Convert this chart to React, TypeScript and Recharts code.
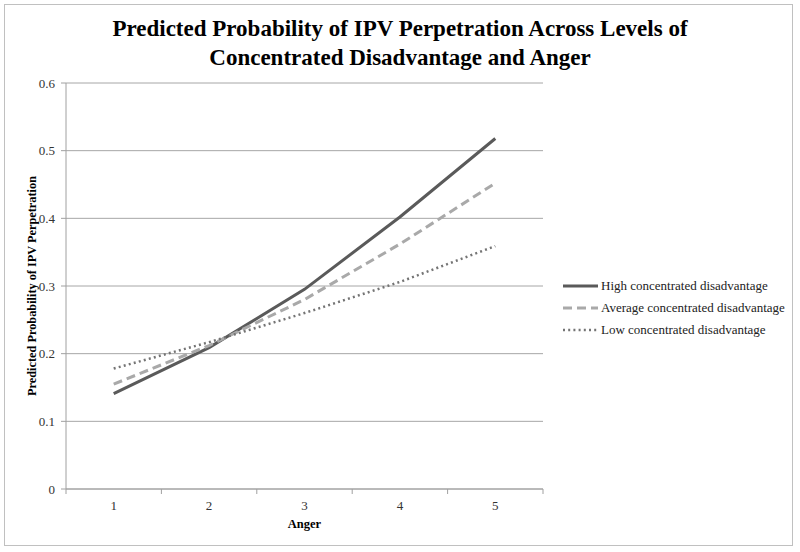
import React from "react";
import { LineChart, Line, XAxis, YAxis, CartesianGrid, Label } from "recharts";

const angerLevels = [1, 2, 3, 4, 5];
const highDisadvantage = [0.141, 0.209, 0.295, 0.402, 0.518];
const averageDisadvantage = [0.155, 0.212, 0.28, 0.362, 0.452];
const lowDisadvantage = [0.178, 0.217, 0.26, 0.306, 0.359];
const yTicks = [0, 0.1, 0.2, 0.3, 0.4, 0.5, 0.6];
const xTicks = [0.5, 1, 1.5, 2, 2.5, 3, 3.5, 4, 4.5, 5, 5.5];

const titleLines = [
  "Predicted Probability of IPV Perpetration Across Levels of",
  "Concentrated Disadvantage and Anger",
];

const series = [
  { key: "high", name: "High concentrated disadvantage", color: "#5a5a5a", dash: undefined as string | undefined, width: 3 },
  { key: "average", name: "Average concentrated disadvantage", color: "#a9a9a9", dash: "9 5", width: 3 },
  { key: "low", name: "Low concentrated disadvantage", color: "#747474", dash: "2 3.2", width: 2.5 },
];

const data = angerLevels.map((a, i) => ({
  anger: a,
  high: highDisadvantage[i],
  average: averageDisadvantage[i],
  low: lowDisadvantage[i],
}));

const FONT = '"Liberation Serif", "Times New Roman", serif';

const XTick = (props: any) => {
  const { x, y, payload } = props;
  const v = payload.value as number;
  if (!Number.isInteger(v)) {
    return <line x1={x} y1={y} x2={x} y2={y + 5} stroke="#a0a0a0" strokeWidth={1} />;
  }
  return (
    <text x={x} y={y + 21} textAnchor="middle" fontFamily={FONT} fontSize={13} fill="#333">
      {v}
    </text>
  );
};

export default function App() {
  return (
    <div style={{ position: "absolute", left: 0, top: 0, width: 800, height: 552, background: "#fff" }}>
      <div
        style={{
          position: "absolute",
          left: 4,
          top: 4,
          width: 787,
          height: 540,
          border: "1.5px solid #c0c0c0",
        }}
      />
      <div
        style={{
          position: "absolute",
          left: 0,
          top: 14,
          width: 800,
          textAlign: "center",
          fontFamily: FONT,
          fontWeight: "bold",
          fontSize: 23,
          lineHeight: "29px",
          color: "#000",
        }}
      >
        {titleLines.map((t) => (
          <div key={t}>{t}</div>
        ))}
      </div>
      <div style={{ position: "absolute", left: 0, top: 0 }}>
        <LineChart width={800} height={552} data={data} margin={{ top: 83, right: 257, bottom: 33, left: 16 }}>
          <CartesianGrid vertical={false} stroke="#a6a6a6" strokeWidth={1} />
          <XAxis
            dataKey="anger"
            type="number"
            domain={[0.5, 5.5]}
            ticks={xTicks}
            interval={0}
            height={30}
            tickLine={false}
            tickSize={0}
            tickMargin={0}
            axisLine={{ stroke: "#a0a0a0" }}
            tick={<XTick />}
          >
            <Label
              value="Anger"
              position="bottom"
              offset={0}
              style={{ fontFamily: FONT, fontWeight: "bold", fontSize: 12.5, fill: "#000" }}
            />
          </XAxis>
          <YAxis
            width={50}
            domain={[0, 0.6]}
            ticks={yTicks}
            interval={0}
            tickSize={5}
            tickMargin={6}
            axisLine={{ stroke: "#a0a0a0" }}
            tickLine={{ stroke: "#a0a0a0" }}
            tick={{ fontFamily: FONT, fontSize: 13, fill: "#333" }}
          >
            <Label
              content={(p: any) => {
                const vb = p.viewBox || {};
                const cx = 32;
                const cy = vb.y + vb.height / 2;
                return (
                  <text
                    x={cx}
                    y={cy}
                    transform={`rotate(-90 ${cx} ${cy})`}
                    textAnchor="middle"
                    dominantBaseline="central"
                    fontFamily={FONT}
                    fontWeight="bold"
                    fontSize={12.3}
                    fill="#000"
                  >
                    Predicted Probability of IPV Perpetration
                  </text>
                );
              }}
            />
          </YAxis>
          {series.map((s) => (
            <Line
              key={s.key}
              dataKey={s.key}
              name={s.name}
              stroke={s.color}
              strokeWidth={s.width}
              strokeDasharray={s.dash}
              dot={false}
              activeDot={false}
              type="linear"
              isAnimationActive={false}
            />
          ))}
        </LineChart>
      </div>
      <div style={{ position: "absolute", left: 563, top: 275 }}>
        {series.map((s) => (
          <div key={s.key} style={{ display: "flex", alignItems: "center", height: 22 }}>
            <svg width={36} height={10} style={{ marginRight: 2 }}>
              <line x1={0} y1={5} x2={35} y2={5} stroke={s.color} strokeWidth={s.width} strokeDasharray={s.dash} />
            </svg>
            <span style={{ fontFamily: FONT, fontSize: 13, color: "#222", whiteSpace: "nowrap" }}>{s.name}</span>
          </div>
        ))}
      </div>
    </div>
  );
}
